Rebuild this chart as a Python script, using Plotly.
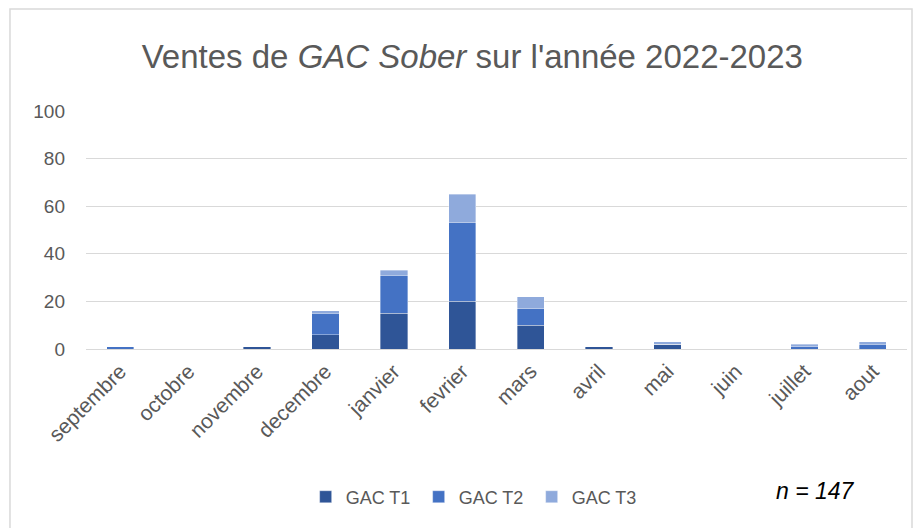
import plotly.graph_objects as go

mois = ["septembre", "octobre", "novembre", "decembre", "janvier", "fevrier",
        "mars", "avril", "mai", "juin", "juillet", "aout"]
gac_t1 = [0, 0, 1, 6, 15, 20, 10, 1, 2, 0, 0, 0]
gac_t2 = [1, 0, 0, 9, 16, 33, 7, 0, 0, 0, 1, 2]
gac_t3 = [0, 0, 0, 1, 2, 12, 5, 0, 1, 0, 1, 1]
total = sum(gac_t1) + sum(gac_t2) + sum(gac_t3)

series = [("GAC T1", gac_t1, "#2F5597"),
          ("GAC T2", gac_t2, "#4472C4"),
          ("GAC T3", gac_t3, "#8FAADC")]

fig = go.Figure()
for name, vals, col in series:
    fig.add_trace(go.Bar(x=mois, y=vals, name=name,
                         marker=dict(color=col, line=dict(color="rgba(255,255,255,0.6)", width=0.6))))

font = "Liberation Sans"
# the page body has an 8px margin, so the figure is 914x520
fig.update_layout(
    barmode="stack",
    bargap=0.6,
    width=914, height=520,
    margin=dict(l=78, r=15, t=103, b=179),
    plot_bgcolor="white", paper_bgcolor="white",
    font=dict(family=font, color="#595959"),
    title=dict(text="Ventes de <i>GAC Sober</i> sur l'année 2022-2023",
               x=0.508, xanchor="center", y=0.906, yanchor="middle",
               font=dict(size=33, color="#595959", family=font)),
    showlegend=True,
    legend=dict(orientation="h", x=0.474, xanchor="center", y=-0.622, yanchor="middle",
                font=dict(size=18, color="#595959"), traceorder="normal",
                entrywidth=68, itemwidth=30),
    xaxis=dict(tickangle=-45, tickfont=dict(size=21, color="#595959"),
               showgrid=False, showline=False, ticks="", automargin=False,
               ticklabelstandoff=5),
    yaxis=dict(range=[0, 100], dtick=20, tickfont=dict(size=19, color="#595959"),
               gridcolor="#d9d9d9", gridwidth=1, zeroline=True, zerolinecolor="#d9d9d9",
               zerolinewidth=1, showline=False, ticks="", ticklabelstandoff=20,
               automargin=False),
    annotations=[dict(text=f"<i>n = {total}</i>", xref="paper", yref="paper",
                      x=0.888, y=-0.597, xanchor="center", yanchor="middle",
                      showarrow=False, font=dict(size=23, color="black", family=font))],
    shapes=[dict(type="rect", xref="paper", yref="paper",
                 x0=-0.0926, x1=1.0061, y0=-1.0, y1=1.4286,
                 line=dict(color="#d9d9d9", width=1.5), fillcolor="rgba(0,0,0,0)", layer="below")],
)

fig.write_html("out.html")
